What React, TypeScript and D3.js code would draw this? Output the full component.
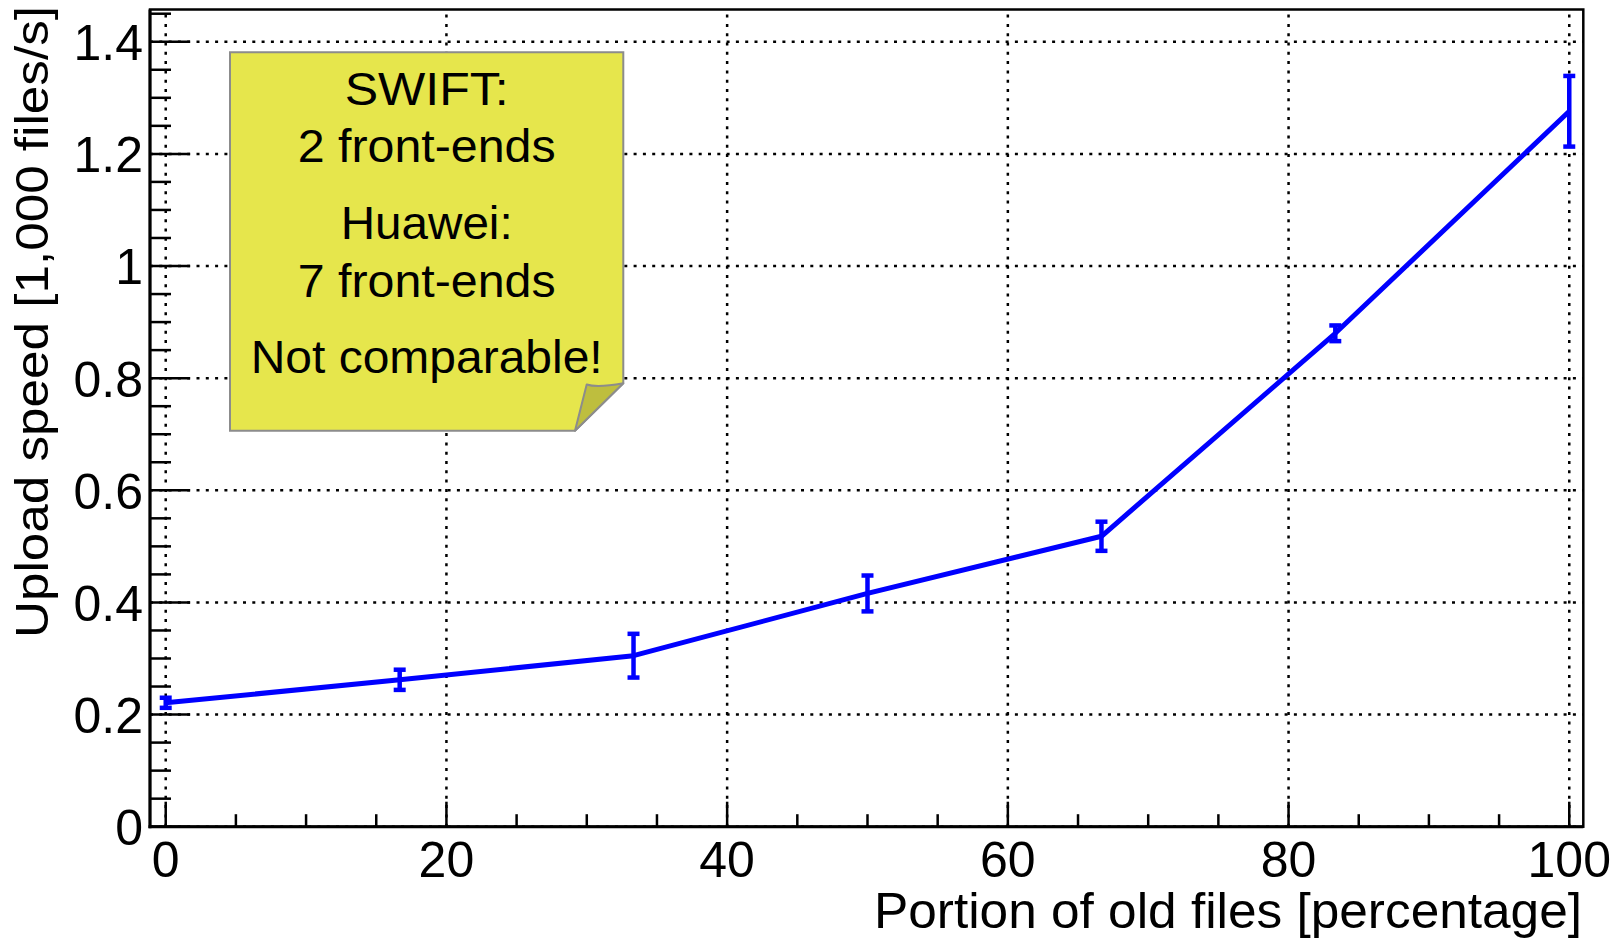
import React from "react";
import * as d3 from "d3";

// Upload speed vs. portion of old files, with symmetric errors
const portionOld = [0, 16.67, 33.33, 50, 66.67, 83.33, 100];
const uploadSpeed = [0.221, 0.262, 0.305, 0.416, 0.518, 0.88, 1.276];
const uploadError = [0.009, 0.018, 0.039, 0.032, 0.026, 0.014, 0.063];

const xMajorTicks = [0, 20, 40, 60, 80, 100];
const xMinorTicks = [5, 10, 15, 25, 30, 35, 45, 50, 55, 65, 70, 75, 85, 90, 95];
const yMajorTicks = [0, 0.2, 0.4, 0.6, 0.8, 1, 1.2, 1.4];
const yMajorLabels = ["0", "0.2", "0.4", "0.6", "0.8", "1", "1.2", "1.4"];
const yMinorTicks = [0.05, 0.1, 0.15, 0.25, 0.3, 0.35, 0.45, 0.5, 0.55, 0.65, 0.7, 0.75, 0.85, 0.9, 0.95, 1.05, 1.1, 1.15, 1.25, 1.3, 1.35, 1.45];

const noteLines = ["SWIFT:", "2 front-ends", "Huawei:", "7 front-ends", "Not comparable!"];

const W = 1617;
const H = 941;
const FL = 150;
const FR = 1583.3;
const FT = 9.5;
const FB = 826.7;

const FONT = "'Liberation Sans', Arial, Helvetica, sans-serif";

export default function App() {
  const x = d3.scaleLinear().domain([-1.12, 101.0]).range([FL, FR]);
  const y = d3.scaleLinear().domain([0, 1.4575]).range([FB, FT]);

  const pts = portionOld.map((p, i) => [p, uploadSpeed[i]] as [number, number]);
  const line = d3
    .line<[number, number]>()
    .x((d) => x(d[0]))
    .y((d) => y(d[1]));

  const grid = { stroke: "#000", strokeWidth: 2.5, strokeDasharray: "3 6.3" };

  // note box geometry
  const bx0 = 230, by0 = 52.3, bx1 = 623.3, by1 = 430.7;
  const foldY = 383.3, foldX = 575;
  const noteBaselines = [105, 161.7, 239.3, 296.7, 373.3];
  const noteLengths = [164, 258, 172, 258, 352];

  return (
    <svg
      width={W}
      height={H}
      viewBox={`0 0 ${W} ${H}`}
      style={{ position: "absolute", left: 0, top: 0, background: "#fff" }}
      fontFamily={FONT}
    >
      <rect x={0} y={0} width={W} height={H} fill="#fff" />

      {/* grid */}
      {xMajorTicks.map((t) => (
        <line key={"gx" + t} x1={x(t)} x2={x(t)} y1={FB} y2={FT} {...grid} />
      ))}
      {yMajorTicks.map((t) => (
        <line key={"gy" + t} x1={FL} x2={FR} y1={y(t)} y2={y(t)} {...grid} />
      ))}

      {/* frame */}
      <rect x={FL} y={FT} width={FR - FL} height={FB - FT} fill="none" stroke="#000" strokeWidth={2.5} />
      <line x1={FL} x2={FL} y1={FT} y2={FB + 1.5} stroke="#000" strokeWidth={3} />
      <line x1={FL - 1.5} x2={FR} y1={FB} y2={FB} stroke="#000" strokeWidth={3} />

      {/* y axis ticks */}
      {yMajorTicks.map((t) => (
        <line key={"ymt" + t} x1={FL} x2={FL + 40} y1={y(t)} y2={y(t)} stroke="#000" strokeWidth={2.5} />
      ))}
      {yMinorTicks.map((t) => (
        <line key={"ymn" + t} x1={FL} x2={FL + 21} y1={y(t)} y2={y(t)} stroke="#000" strokeWidth={2.5} />
      ))}
      {yMajorTicks.map((t, i) => (
        <text key={"yl" + t} x={143} y={y(t) + 18.4} fontSize={50} textAnchor="end" fill="#000">
          {yMajorLabels[i]}
        </text>
      ))}

      {/* x axis ticks */}
      {xMajorTicks.map((t) => (
        <line key={"xmt" + t} x1={x(t)} x2={x(t)} y1={FB} y2={FB - 25} stroke="#000" strokeWidth={2.5} />
      ))}
      {xMinorTicks.map((t) => (
        <line key={"xmn" + t} x1={x(t)} x2={x(t)} y1={FB} y2={FB - 12.5} stroke="#000" strokeWidth={2.5} />
      ))}
      {xMajorTicks.map((t) => (
        <text key={"xl" + t} x={x(t)} y={877} fontSize={50} textAnchor="middle" fill="#000">
          {String(t)}
        </text>
      ))}

      {/* axis titles */}
      <text x={874} y={928} fontSize={50} textLength={708} lengthAdjust="spacingAndGlyphs" fill="#000">
        Portion of old files [percentage]
      </text>
      <text
        transform={`translate(48,638) rotate(-90)`}
        x={0}
        y={0}
        fontSize={47}
        textLength={632}
        lengthAdjust="spacingAndGlyphs"
        fill="#000"
      >
        Upload speed [1,000 files/s]
      </text>

      {/* graph */}
      <path d={line(pts) || ""} fill="none" stroke="#0000ff" strokeWidth={5} strokeLinejoin="round" />
      {pts.map((d, i) => {
        const cx = x(d[0]);
        const lo = y(d[1] - uploadError[i]);
        const hi = y(d[1] + uploadError[i]);
        return (
          <g key={"eb" + i} stroke="#0000ff" strokeWidth={4.5}>
            <line x1={cx} x2={cx} y1={lo} y2={hi} />
            <line x1={cx - 6} x2={cx + 6} y1={lo} y2={lo} />
            <line x1={cx - 6} x2={cx + 6} y1={hi} y2={hi} />
          </g>
        );
      })}

      {/* note */}
      <path
        d={`M${bx0},${by0} L${bx1},${by0} L${bx1},${foldY} L${foldX},${by1} L${bx0},${by1} Z`}
        fill="#e6e64c"
        stroke="#8c8c8c"
        strokeWidth={2}
      />
      <path
        d={`M${586.7},${384.5} Q${597},${388} ${bx1},${foldY} L${foldX},${by1} Z`}
        fill="#bebe3e"
        stroke="#8c8c8c"
        strokeWidth={2}
        strokeLinejoin="round"
      />
      {noteLines.map((s, i) => (
        <text
          key={"n" + i}
          x={426.7}
          y={noteBaselines[i]}
          fontSize={46}
          textAnchor="middle"
          textLength={noteLengths[i]}
          lengthAdjust="spacingAndGlyphs"
          fill="#000"
        >
          {s}
        </text>
      ))}
    </svg>
  );
}
